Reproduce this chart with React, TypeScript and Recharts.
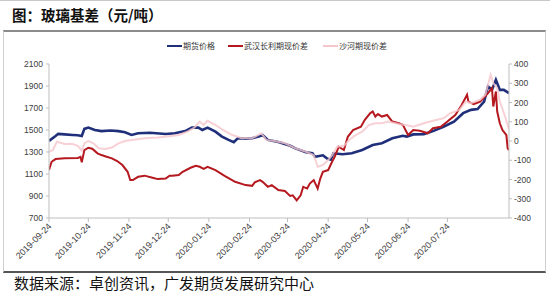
import { Line, LineChart, XAxis, YAxis } from "recharts";

const futuresDates = [
  "2019-09-24", "2019-09-29", "2019-10-01", "2019-10-06", "2019-10-12", "2019-10-16", "2019-10-19",
  "2019-10-21", "2019-10-24", "2019-10-29", "2019-11-03", "2019-11-10", "2019-11-16", "2019-11-21",
  "2019-11-26", "2019-12-01", "2019-12-10", "2019-12-22", "2019-12-29", "2020-01-06", "2020-01-11",
  "2020-01-16", "2020-01-19", "2020-01-23", "2020-01-29", "2020-02-03", "2020-02-08", "2020-02-12",
  "2020-02-15", "2020-02-21", "2020-02-26", "2020-03-02", "2020-03-05", "2020-03-09", "2020-03-17",
  "2020-03-26", "2020-03-30", "2020-04-07", "2020-04-12", "2020-04-14", "2020-04-20", "2020-04-23",
  "2020-04-26", "2020-04-28", "2020-05-05", "2020-05-12", "2020-05-20", "2020-05-28", "2020-06-04",
  "2020-06-12", "2020-06-20", "2020-06-23", "2020-06-28", "2020-07-06", "2020-07-13", "2020-07-21",
  "2020-07-29", "2020-08-05", "2020-08-11", "2020-08-16", "2020-08-21", "2020-08-24", "2020-08-27",
  "2020-08-30", "2020-09-02", "2020-09-05", "2020-09-09",
];
const futuresPrice = [
  1400, 1445, 1465, 1460, 1455, 1452, 1445,
  1510, 1522, 1500, 1490, 1495, 1490, 1480,
  1455, 1470, 1475, 1464, 1470, 1490, 1522,
  1522, 1500, 1522, 1485, 1440, 1410, 1390,
  1425, 1420, 1425, 1440, 1455, 1410, 1390,
  1357, 1333, 1297, 1290, 1257, 1270, 1242,
  1230, 1288, 1280, 1288, 1318, 1364, 1380,
  1425, 1448, 1440, 1460, 1462, 1490, 1530,
  1576, 1653, 1683, 1690, 1759, 1896, 1865,
  1957, 1865, 1865, 1835,
];

const wuhanDates = [
  "2019-09-24", "2019-09-26", "2019-09-29", "2019-10-06", "2019-10-16", "2019-10-18", "2019-10-19",
  "2019-10-21", "2019-10-24", "2019-10-27", "2019-10-31", "2019-11-03", "2019-11-07", "2019-11-11",
  "2019-11-15", "2019-11-19", "2019-11-23", "2019-11-25", "2019-11-27", "2019-12-01", "2019-12-06",
  "2019-12-12", "2019-12-16", "2019-12-22", "2019-12-25", "2019-12-27", "2020-01-01", "2020-01-04",
  "2020-01-10", "2020-01-14", "2020-01-17", "2020-01-20", "2020-01-23", "2020-01-29", "2020-02-05",
  "2020-02-13", "2020-02-21", "2020-02-26", "2020-02-28", "2020-03-03", "2020-03-05", "2020-03-09",
  "2020-03-12", "2020-03-17", "2020-03-22", "2020-03-26", "2020-03-28", "2020-03-31", "2020-04-03",
  "2020-04-05", "2020-04-08", "2020-04-10", "2020-04-13", "2020-04-16", "2020-04-18", "2020-04-20",
  "2020-04-24", "2020-04-27", "2020-04-29", "2020-05-02", "2020-05-06", "2020-05-09", "2020-05-13",
  "2020-05-19", "2020-05-22", "2020-05-26", "2020-05-28", "2020-05-30", "2020-06-01", "2020-06-04",
  "2020-06-08", "2020-06-12", "2020-06-17", "2020-06-20", "2020-06-24", "2020-06-28", "2020-07-03",
  "2020-07-09", "2020-07-13", "2020-07-19", "2020-07-24", "2020-07-30", "2020-08-04", "2020-08-08",
  "2020-08-09", "2020-08-13", "2020-08-18", "2020-08-24", "2020-08-27", "2020-08-28", "2020-08-30",
  "2020-08-31", "2020-09-02", "2020-09-04", "2020-09-06", "2020-09-07", "2020-09-08", "2020-09-09",
];
const wuhanBasis = [
  -151, -108, -94, -90, -88, -82, -111,
  -47, -35, -40, -64, -73, -82, -90,
  -104, -125, -160, -203, -203, -186, -180,
  -191, -198, -195, -180, -181, -177, -160,
  -139, -129, -134, -145, -134, -151, -181,
  -212, -229, -233, -215, -203, -212, -238,
  -229, -255, -260, -285, -282, -308, -282,
  -238, -247, -221, -203, -247, -195, -160,
  -151, -108, -82, -30, -47, 22, 57,
  74, 110, 144, 153, 127, 140, 127,
  135, 101, 92, 84, 31, 57, 53,
  40, 66, 74, 101, 135, 188, 240,
  205, 192, 205, 249, 275, 179, 257,
  153, 92, 57, 40, 31, -38, -47,
];

const shaheDates = [
  "2019-09-24", "2019-09-27", "2019-09-30", "2019-10-06", "2019-10-12", "2019-10-16", "2019-10-19",
  "2019-10-21", "2019-10-24", "2019-10-28", "2019-11-01", "2019-11-06", "2019-11-11", "2019-11-16",
  "2019-11-21", "2019-11-26", "2019-12-06", "2019-12-16", "2019-12-25", "2020-01-01", "2020-01-08",
  "2020-01-13", "2020-01-17", "2020-01-20", "2020-01-23", "2020-01-29", "2020-02-04", "2020-02-11",
  "2020-02-18", "2020-02-26", "2020-03-04", "2020-03-08", "2020-03-14", "2020-03-22", "2020-03-30",
  "2020-04-07", "2020-04-13", "2020-04-16", "2020-04-20", "2020-04-24", "2020-04-27", "2020-05-01",
  "2020-05-06", "2020-05-10", "2020-05-15", "2020-05-20", "2020-05-25", "2020-05-30", "2020-06-04",
  "2020-06-09", "2020-06-17", "2020-06-22", "2020-06-28", "2020-07-06", "2020-07-11", "2020-07-16",
  "2020-07-21", "2020-07-26", "2020-08-02", "2020-08-07", "2020-08-11", "2020-08-18", "2020-08-22",
  "2020-08-26", "2020-08-28", "2020-08-31", "2020-09-02", "2020-09-06", "2020-09-09",
];
const shaheBasis = [
  -56, -47, -4, -16, -16, -25, -50,
  -12, 0, -12, -38, -42, -34, -12,
  0, 5, 14, 18, 25, 31, 50,
  70, 101, 83, 105, 83, 57, 31,
  14, 14, 40, 5, 0, -12, -38,
  -56, -73, -134, -125, -99, -73, -30,
  -25, 5, 31, 48, 83, 92, 92,
  101, 88, 83, 74, 92, 101, 110,
  118, 144, 162, 205, 197, 214, 240,
  344, 301, 275, 205, 127, 60,
];

const tickDates = [
  "2019-09-24", "2019-10-24", "2019-11-24", "2019-12-24", "2020-01-24", "2020-02-24",
  "2020-03-24", "2020-04-24", "2020-05-24", "2020-06-24", "2020-07-24",
];
const leftTicks = [700, 900, 1100, 1300, 1500, 1700, 1900, 2100];
const rightTicks = [-400, -300, -200, -100, 0, 100, 200, 300, 400];

const dayOf = (s: string) =>
  (Date.UTC(+s.slice(0, 4), +s.slice(5, 7) - 1, +s.slice(8, 10)) - Date.UTC(2019, 8, 24)) / 86400000;

const futures = futuresDates.map((d, i) => ({ t: dayOf(d), v: futuresPrice[i] }));
const wuhan = wuhanDates.map((d, i) => ({ t: dayOf(d), v: wuhanBasis[i] }));
const shahe = shaheDates.map((d, i) => ({ t: dayOf(d), v: shaheBasis[i] }));
const xTicks = tickDates.map(dayOf);

const NAVY = "#1f2f7a";
const RED = "#b5191f";
const PINK = "#f5c6ca";

const axisFont = { fontFamily: "'Liberation Sans', Arial, sans-serif", fontSize: 8.5, fill: "#404040" };

const XTick = (props: any) => {
  const { x, y, payload } = props;
  const i = xTicks.indexOf(payload.value);
  return (
    <text
      x={x + 3}
      y={y + 3}
      transform={`rotate(-45 ${x + 3} ${y + 3})`}
      textAnchor="end"
      {...axisFont}
      fontSize={9}
    >
      {tickDates[i]}
    </text>
  );
};

const legendItems = [
  { name: "期货价格", color: NAVY, x: 167 },
  { name: "武汉长利期现价差", color: RED, x: 228 },
  { name: "沙河期现价差", color: PINK, x: 323 },
];

export default function App() {
  return (
    <div
      style={{
        position: "absolute",
        left: 0,
        top: 0,
        width: 550,
        height: 298,
        background: "#fff",
        overflow: "hidden",
        fontFamily: "'Noto Sans CJK SC', sans-serif",
      }}
    >
      <div style={{ position: "absolute", left: 0, top: 0, width: 550, height: 1, background: "#c8c8c8" }} />
      <div
        style={{
          position: "absolute",
          left: 12,
          top: 3,
          fontSize: 14.5,
          fontWeight: 700,
          color: "#111",
          letterSpacing: 0,
          lineHeight: "24px",
        }}
      >
        图：玻璃基差（元/吨）
      </div>
      <div
        style={{
          position: "absolute",
          left: 3,
          top: 30,
          width: 541,
          height: 239,
          borderTop: "2px solid #8c8c8c",
          borderLeft: "1px solid #d0d0d0",
          borderRight: "1px solid #d0d0d0",
          borderBottom: "2px solid #555",
        }}
      />
      {legendItems.map((it) => (
        <div
          key={it.name}
          style={{ position: "absolute", left: it.x, top: 40, height: 12, display: "flex", alignItems: "center" }}
        >
          <div style={{ width: 15, height: 2.5, background: it.color }} />
          <span style={{ fontSize: 8, color: "#333", marginLeft: 1, lineHeight: "12px" }}>{it.name}</span>
        </div>
      ))}
      <div style={{ position: "absolute", left: 0, top: 0 }}>
        <LineChart width={550} height={298} margin={{ top: 64, right: 0, bottom: 20, left: 0 }}>
          <XAxis
            type="number"
            dataKey="t"
            domain={[0, 351]}
            ticks={xTicks}
            tick={<XTick />}
            height={60}
            tickSize={4}
            tickMargin={2}
            stroke="#bfbfbf"
            tickLine={{ stroke: "#bfbfbf" }}
            allowDataOverflow
          />
          <YAxis
            yAxisId="left"
            width={49}
            domain={[700, 2100]}
            ticks={leftTicks}
            tick={axisFont}
            tickSize={3}
            tickMargin={3}
            stroke="#bfbfbf"
            interval={0}
          />
          <YAxis
            yAxisId="right"
            orientation="right"
            width={41}
            domain={[-400, 400]}
            ticks={rightTicks}
            tick={{ ...axisFont, textAnchor: "start" }}
            tickSize={3}
            tickMargin={2}
            stroke="#bfbfbf"
            interval={0}
          />
          <Line
            yAxisId="left"
            data={futures}
            dataKey="v"
            stroke={NAVY}
            strokeWidth={2.6}
            dot={false}
            isAnimationActive={false}
            type="linear"
          />
          <Line
            yAxisId="right"
            data={wuhan}
            dataKey="v"
            stroke={RED}
            strokeWidth={2}
            dot={false}
            isAnimationActive={false}
            type="linear"
          />
          <Line
            yAxisId="right"
            data={shahe}
            dataKey="v"
            stroke={PINK}
            strokeOpacity={0.8}
            strokeWidth={2}
            dot={false}
            isAnimationActive={false}
            type="linear"
          />
        </LineChart>
      </div>
      <div
        style={{
          position: "absolute",
          left: 14,
          top: 273,
          fontSize: 15,
          color: "#111",
          lineHeight: "20px",
        }}
      >
        数据来源：卓创资讯，广发期货发展研究中心
      </div>
    </div>
  );
}
